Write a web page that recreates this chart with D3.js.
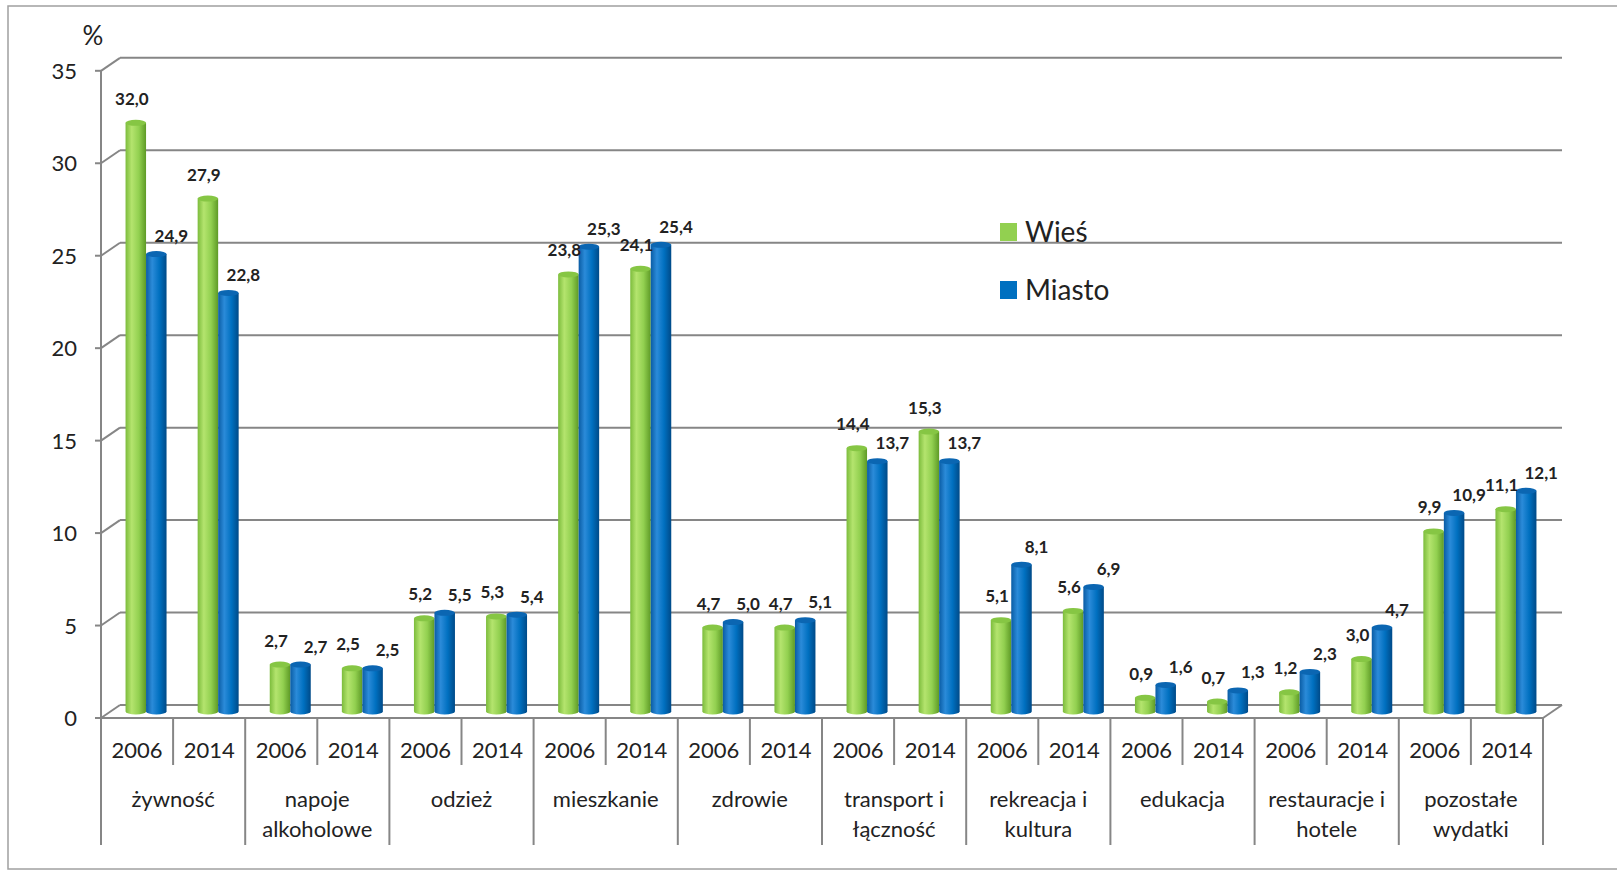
<!DOCTYPE html>
<html>
<head>
<meta charset="utf-8">
<script src="https://cdn.jsdelivr.net/npm/d3@7"></script>
<style>
  body { margin: 0; background: #fff; }
  svg text { font-family: Lato, "Open Sans", sans-serif; fill: #222; }
</style>
</head>
<body>
<div id="chart"></div>
<script>
const categories = [
  ["żywność"], ["napoje", "alkoholowe"], ["odzież"], ["mieszkanie"], ["zdrowie"],
  ["transport i", "łączność"], ["rekreacja i", "kultura"], ["edukacja"],
  ["restauracje i", "hotele"], ["pozostałe", "wydatki"]
];
const years = ["2006", "2014"];
// pairs per category: 2006, 2014
const wies   = [32.0, 27.9, 2.7, 2.5, 5.2, 5.3, 23.8, 24.1, 4.7, 4.7, 14.4, 15.3, 5.1, 5.6, 0.9, 0.7, 1.2, 3.0, 9.9, 11.1];
const miasto = [24.9, 22.8, 2.7, 2.5, 5.5, 5.4, 25.3, 25.4, 5.0, 5.1, 13.7, 13.7, 8.1, 6.9, 1.6, 1.3, 2.3, 4.7, 10.9, 12.1];
const yTicks = [0, 5, 10, 15, 20, 25, 30, 35];
const seriesNames = ["Wieś", "Miasto"];

const W = 1617, H = 872;
const left = 101, right = 1543, base = 718;
const depthX = 19, depthY = -13;
const gridCol = "#868686";

const svg = d3.select("#chart").append("svg")
  .attr("width", W).attr("height", H);

const defs = svg.append("defs");
function grad(id, stops) {
  const g = defs.append("linearGradient").attr("id", id)
    .attr("x1", "0%").attr("x2", "100%").attr("y1", "0%").attr("y2", "0%");
  stops.forEach(s => g.append("stop").attr("offset", s[0]).attr("stop-color", s[1]));
}
grad("gGreen", [["0%", "#7cbc3c"], ["30%", "#b4e46e"], ["65%", "#92d050"], ["100%", "#5e9a26"]]);
grad("gBlue", [["0%", "#0a5ca4"], ["30%", "#2b8bd9"], ["65%", "#0070c0"], ["100%", "#004a88"]]);

// frame
svg.append("rect").attr("x", 8).attr("y", 6).attr("width", W).attr("height", 863)
  .attr("fill", "none").attr("stroke", "#a0a0a0").attr("stroke-width", 1.5);

const y = d3.scaleLinear().domain([0, 35]).range([base, 70.8]);
const slots = d3.range(categories.length * 2);
const x = d3.scaleBand().domain(slots).range([left, right]).padding(0);
const xc = d3.scaleBand().domain(d3.range(categories.length)).range([left, right]);

// back wall gridlines + side wall diagonals
const grid = svg.append("g").attr("stroke", gridCol).attr("stroke-width", 2).attr("fill", "none");
yTicks.forEach(t => {
  const yy = y(t);
  grid.append("line").attr("x1", left).attr("y1", yy).attr("x2", left + depthX).attr("y2", yy + depthY);
  grid.append("line").attr("x1", left + depthX).attr("y1", yy + depthY).attr("x2", right + depthX).attr("y2", yy + depthY);
  grid.append("line").attr("x1", left - 6).attr("y1", yy).attr("x2", left).attr("y2", yy);
});
// floor front edge + right edge
grid.append("line").attr("x1", left).attr("y1", base).attr("x2", right).attr("y2", base);
grid.append("line").attr("x1", right).attr("y1", base).attr("x2", right + depthX).attr("y2", base + depthY);
// vertical axis
grid.append("line").attr("x1", left).attr("y1", y(35)).attr("x2", left).attr("y2", base);

// category separators
xc.domain().forEach(i => {
  grid.append("line").attr("x1", xc(i)).attr("y1", base).attr("x2", xc(i)).attr("y2", 845);
  grid.append("line").attr("x1", xc(i) + x.bandwidth()).attr("y1", base)
    .attr("x2", xc(i) + x.bandwidth()).attr("y2", 765);
});
grid.append("line").attr("x1", right).attr("y1", base).attr("x2", right).attr("y2", 845);

// y tick labels
svg.append("g").selectAll("text").data(yTicks).enter().append("text")
  .attr("x", 77).attr("y", d => y(d) + 8)
  .attr("text-anchor", "end").attr("font-size", 22).text(d => d);
svg.append("text").attr("x", 93).attr("y", 45).attr("text-anchor", "middle")
  .attr("font-size", 26).text("%");

// year labels
svg.append("g").selectAll("text").data(slots).enter().append("text")
  .attr("x", d => x(d) + x.bandwidth() / 2).attr("y", 758)
  .attr("text-anchor", "middle").attr("font-size", 22)
  .text(d => years[d % 2]);

// category labels
const cat = svg.append("g").selectAll("text").data(categories).enter().append("text")
  .attr("text-anchor", "middle").attr("font-size", 22);
cat.selectAll("tspan").data((d, i) => d.map(l => ({ l, i }))).enter().append("tspan")
  .attr("x", d => xc(d.i) + xc.bandwidth() / 2)
  .attr("y", (d, j) => 807 + j * 30)
  .text(d => d.l);

// cylinders
const barW = 20.5, ry = 3, lift = 6.5, shiftX = 9;
function cylinder(g, x0, x1, yTop, yBot, fill, cap) {
  const rx = (x1 - x0) / 2;
  g.append("path")
    .attr("d", `M${x0},${yTop} L${x0},${yBot} A${rx},${ry} 0 0 0 ${x1},${yBot} L${x1},${yTop} Z`)
    .attr("fill", fill);
  g.append("ellipse").attr("cx", x0 + rx).attr("cy", yTop).attr("rx", rx).attr("ry", ry)
    .attr("fill", cap);
}

const bars = svg.append("g");
const labels = svg.append("g").attr("font-size", 17).attr("font-weight", "bold");
const fmt = v => v.toFixed(1).replace(".", ",");
slots.forEach(s => {
  const cx = x(s) + x.bandwidth() / 2 + shiftX;
  const gx0 = cx - barW, gx1 = cx, bx0 = cx, bx1 = cx + barW;
  const yb = y(0) - lift;
  const gt = y(wies[s]) - lift + ry;
  const bt = y(miasto[s]) - lift + ry;
  cylinder(bars, gx0, gx1, gt, yb, "url(#gGreen)", "#86c644");
  cylinder(bars, bx0, bx1, bt, yb, "url(#gBlue)", "#0b66b2");
  labels.append("text").attr("x", (gx0 + gx1) / 2 - 4).attr("y", gt - 18)
    .attr("text-anchor", "middle").text(fmt(wies[s]));
  labels.append("text").attr("x", (bx0 + bx1) / 2 + 15).attr("y", bt - 12)
    .attr("text-anchor", "middle").text(fmt(miasto[s]));
});

// legend
const legend = svg.append("g").selectAll("g").data(seriesNames).enter().append("g")
  .attr("transform", (d, i) => `translate(1000, ${223 + i * 58})`);
legend.append("rect").attr("width", 17).attr("height", 18)
  .attr("fill", (d, i) => i === 0 ? "#92d050" : "#0070c0");
legend.append("text").attr("x", 25).attr("y", 19).attr("font-size", 28).text(d => d);
</script>
</body>
</html>
